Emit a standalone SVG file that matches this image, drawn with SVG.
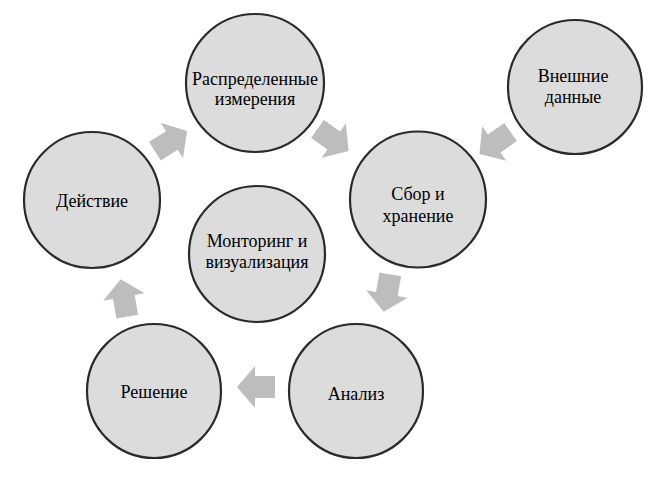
<svg xmlns="http://www.w3.org/2000/svg" xmlns:xlink="http://www.w3.org/1999/xlink" width="656" height="489" viewBox="0 0 656 489">
<style>
.node circle{fill:#dcdcdc;stroke:#2a2a2a;stroke-width:2.2}
.node text{font-size:18px;fill:#000;text-anchor:middle}
.arrow{fill:#bdbdbd}
</style>
<defs>
<path id="blk" d="M-19,-11 L1,-11 L1,-21 L19,0 L1,21 L1,11 L-19,11 Z"/>
</defs>
<rect width="656" height="489" fill="#ffffff"/>
<g id="connectors">
<use xlink:href="#blk" class="arrow" transform="translate(333,140) rotate(35)"/>
<use xlink:href="#blk" class="arrow" transform="translate(171,141) rotate(-32)"/>
<use xlink:href="#blk" class="arrow" transform="translate(495,143) rotate(145)"/>
<use xlink:href="#blk" class="arrow" transform="translate(387,293) rotate(100)"/>
<use xlink:href="#blk" class="arrow" transform="translate(256,387) rotate(180)"/>
<use xlink:href="#blk" class="arrow" transform="translate(124,298) rotate(-100)"/>
</g>
<g id="n-raspred" class="node" font-family="Times New Roman, Liberation Serif, serif"><circle cx="255" cy="83" r="69"/><text x="255" y="85">Распределенные</text><text x="255" y="105">измерения</text></g>
<g id="n-vneshnie" class="node" font-family="Times New Roman, Liberation Serif, serif"><circle cx="575" cy="87" r="67"/><text x="573" y="82">Внешние</text><text x="573" y="103">данные</text></g>
<g id="n-deistvie" class="node" font-family="Times New Roman, Liberation Serif, serif"><circle cx="92" cy="200" r="68"/><text x="92" y="207">Действие</text></g>
<g id="n-sbor" class="node" font-family="Times New Roman, Liberation Serif, serif"><circle cx="418" cy="199.5" r="68"/><text x="418" y="200">Сбор и</text><text x="418" y="222">хранение</text></g>
<g id="n-monitoring" class="node" font-family="Times New Roman, Liberation Serif, serif"><circle cx="257" cy="254" r="68"/><text x="257" y="247">Монторинг и</text><text x="257" y="268">визуализация</text></g>
<g id="n-reshenie" class="node" font-family="Times New Roman, Liberation Serif, serif"><circle cx="154" cy="391" r="67"/><text x="154" y="398">Решение</text></g>
<g id="n-analiz" class="node" font-family="Times New Roman, Liberation Serif, serif"><circle cx="356" cy="391" r="67"/><text x="356" y="400">Анализ</text></g>
</svg>
